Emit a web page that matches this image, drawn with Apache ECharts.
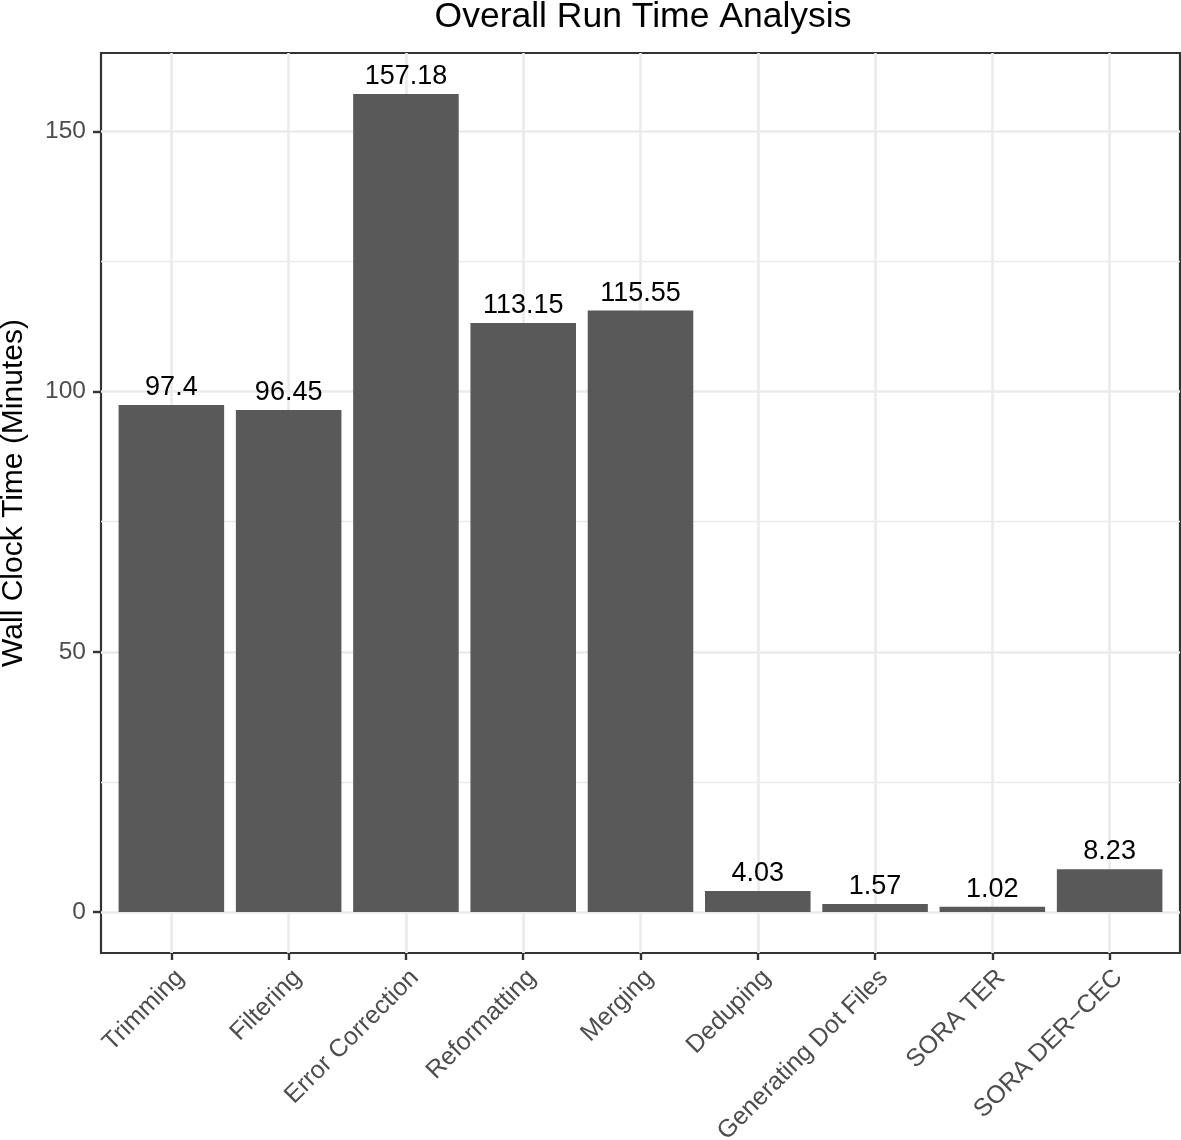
<!DOCTYPE html>
<html>
<head>
<meta charset="utf-8">
<script src="https://cdn.jsdelivr.net/npm/echarts@6/dist/echarts.min.js"></script>
<style>
html,body{margin:0;padding:0;background:#fff;}
#chart{width:1181px;height:1140px;}
</style>
</head>
<body>
<div id="chart"></div>
<script>
const categories = ['Trimming', 'Filtering', 'Error Correction', 'Reformatting', 'Merging', 'Deduping', 'Generating Dot Files', 'SORA TER', 'SORA DER\u2212CEC'];
const runTimes = [97.4, 96.45, 157.18, 113.15, 115.55, 4.03, 1.57, 1.02, 8.23];
const yTicks = [0, 50, 100, 150];
const yMinorGrid = [25, 75, 125];
const xTickPositions = categories.map((c, i) => i);

const FONT = '"Liberation Sans", Arial, Helvetica, sans-serif';
const chart = echarts.init(document.getElementById('chart'), null, {renderer: 'canvas'});

const yMin = -7.86, yMax = 165.04;

chart.setOption({
  backgroundColor: '#ffffff',
  animation: false,
  graphic: [{
    type: 'text',
    x: 643, y: -1,
    style: {
      text: 'Overall Run Time Analysis',
      font: '35.5px ' + FONT,
      fill: '#000000',
      align: 'center',
      verticalAlign: 'top'
    }
  }],
  grid: {
    left: 101, right: 1, top: 53, bottom: 187,
    show: true, borderColor: '#333333', borderWidth: 2.2, backgroundColor: 'transparent',
    containLabel: false,
    outerBoundsMode: 'none'
  },
  xAxis: {
    type: 'value',
    min: -0.6, max: 8.6,
    axisLine: {show: false, onZero: false},
    axisTick: {show: true, length: 7, inside: false, lineStyle: {color: '#333333', width: 2.4}, customValues: xTickPositions},
    axisLabel: {
      show: true, customValues: xTickPositions, rotate: 45, margin: 12,
      align: 'right', verticalAlign: 'top',
      color: '#4D4D4D', fontSize: 25, fontFamily: FONT,
      formatter: v => categories[Math.round(v)]
    },
    splitLine: {show: true, lineStyle: {color: '#EBEBEB', width: 2.7}}
  },
  yAxis: [{
    type: 'value',
    min: yMin, max: yMax,
    name: 'Wall Clock Time (Minutes)',
    nameLocation: 'middle', nameRotate: 90, nameGap: 72,
    nameTextStyle: {color: '#000000', fontSize: 30, fontFamily: FONT, padding: [0, 0, 0, 20]},
    axisLine: {show: false, onZero: false},
    axisTick: {show: true, length: 8, inside: false, lineStyle: {color: '#333333', width: 2.4}, customValues: yTicks},
    axisLabel: {show: true, customValues: yTicks, margin: 15, color: '#4D4D4D', fontSize: 24.5, fontFamily: FONT},
    splitLine: {show: true, lineStyle: {color: '#EBEBEB', width: 2.7}}
  }, {
    type: 'value',
    min: yMin, max: yMax,
    position: 'left',
    offset: 0,
    axisLine: {show: false, onZero: false},
    axisTick: {show: false, customValues: yMinorGrid},
    axisLabel: {show: false, customValues: yMinorGrid},
    splitLine: {show: true, lineStyle: {color: '#EBEBEB', width: 1.4}}
  }],
  series: [{
    type: 'bar',
    xAxisIndex: 0, yAxisIndex: 0,
    data: runTimes.map((v, i) => [i, v]),
    barWidth: '90%',
    itemStyle: {color: '#595959'},
    z: 3,
    label: {
      show: true, position: 'top', distance: 4,
      color: '#000000', fontSize: 27, fontFamily: FONT,
      formatter: p => String(p.value[1])
    }
  }]
});
</script>
</body>
</html>
